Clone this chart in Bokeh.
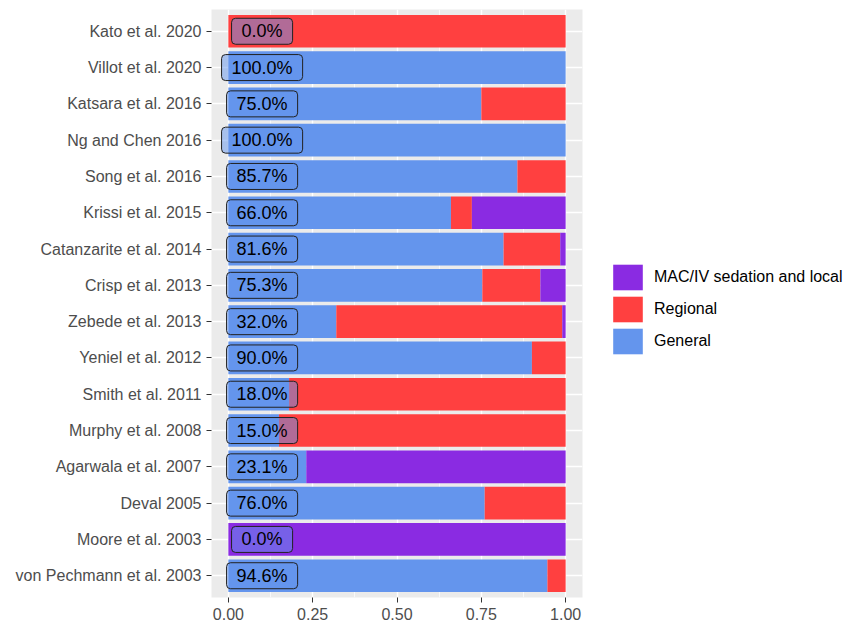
from bokeh.plotting import figure
from bokeh.layouts import row
from bokeh.models import (ColumnDataSource, FactorRange, Range1d, FixedTicker,
                          NumeralTickFormatter, Legend, LegendItem)
from bokeh.core.properties import value
from bokeh.embed import file_html
from bokeh.resources import INLINE

studies = ["Kato et al. 2020", "Villot et al. 2020", "Katsara et al. 2016",
           "Ng and Chen 2016", "Song et al. 2016", "Krissi et al. 2015",
           "Catanzarite et al. 2014", "Crisp et al. 2013", "Zebede et al. 2013",
           "Yeniel et al. 2012", "Smith et al. 2011", "Murphy et al. 2008",
           "Agarwala et al. 2007", "Deval 2005", "Moore et al. 2003",
           "von Pechmann et al. 2003"]
general = [0.0, 1.0, 0.75, 1.0, 0.857, 0.66, 0.816, 0.753, 0.32, 0.90,
           0.18, 0.15, 0.231, 0.76, 0.0, 0.946]
regional = [1.0, 0.0, 0.25, 0.0, 0.143, 0.062, 0.168, 0.172, 0.67, 0.10,
            0.82, 0.85, 0.0, 0.24, 0.0, 0.054]
mac = [0.0, 0.0, 0.0, 0.0, 0.0, 0.278, 0.016, 0.075, 0.01, 0.0,
       0.0, 0.0, 0.769, 0.0, 1.0, 0.0]
labels = [f"{g*100:.1f}%" for g in general]
series_names = ["MAC/IV sedation and local", "Regional", "General"]

COL_G = "#6495ED"
COL_R = "#FF4040"
COL_M = "#8A2BE2"

src = ColumnDataSource(dict(study=studies, General=general, Regional=regional,
                            MAC=mac, label=labels, lx=[0.1] * len(studies)))

p = figure(width=600, height=622, output_backend="svg", toolbar_location=None,
           y_range=FactorRange(factors=list(reversed(studies)),
                               range_padding=0.1, range_padding_units="absolute"),
           x_range=Range1d(-0.05, 1.05),
           min_border_left=211, min_border_top=9, min_border_bottom=25,
           min_border_right=18)
p.background_fill_color = "#EBEBEB"
p.border_fill_color = "white"
p.outline_line_color = None

rs = p.hbar_stack(["General", "Regional", "MAC"], y="study", height=0.9,
                  color=[COL_G, COL_R, COL_M], source=src, line_color=None)

p.text(x="lx", y="study", text="label", source=src,
       text_font=value("Liberation Sans"), text_font_size="18px",
       text_align="center", text_baseline="middle", text_color="black",
       background_fill_color=COL_G, background_fill_alpha=0.5,
       border_line_color="#222222", border_line_width=1, border_radius=4,
       padding=dict(left=10, right=10, top=3, bottom=3))

# axes
p.xaxis.ticker = FixedTicker(ticks=[0, 0.25, 0.5, 0.75, 1.0],
                             minor_ticks=[0.125, 0.375, 0.625, 0.875])
p.xaxis.formatter = NumeralTickFormatter(format="0.00")
for ax in (p.xaxis[0], p.yaxis[0]):
    ax.axis_line_color = None
    ax.major_tick_line_color = "#333333"
    ax.major_tick_out = 5
    ax.major_tick_in = 0
    ax.minor_tick_line_color = None
    ax.major_label_text_font = "Liberation Sans"
    ax.major_label_text_font_size = "16px"
    ax.major_label_text_color = "#4D4D4D"
    ax.major_label_standoff = 5

p.xgrid.grid_line_color = "white"
p.xgrid.grid_line_width = 1.4
p.xgrid.minor_grid_line_color = "white"
p.xgrid.minor_grid_line_width = 0.7
p.ygrid.grid_line_color = "white"
p.ygrid.grid_line_width = 1.4

# legend panel
p2 = figure(width=257, height=622, output_backend="svg", toolbar_location=None,
            x_range=Range1d(0, 1), y_range=Range1d(0, 1),
            x_axis_location=None, y_axis_location=None,
            min_border=0)
p2.outline_line_color = None
p2.grid.visible = False
offscreen = ColumnDataSource(dict(y=[-5.0], left=[2.0], right=[3.0]))
lr = [p2.hbar(y="y", left="left", right="right", height=0.5, fill_color=c,
              line_color=None, source=offscreen)
      for c in (COL_M, COL_R, COL_G)]
legend = Legend(items=[LegendItem(label=n, renderers=[r])
                       for n, r in zip(series_names, lr)],
                location=(9, 240), orientation="vertical",
                glyph_width=37, glyph_height=32, label_standoff=8, spacing=0,
                padding=0, margin=0, border_line_color=None,
                background_fill_alpha=0,
                label_text_font="Liberation Sans", label_text_font_size="16px",
                label_text_color="black")
p2.add_layout(legend, "center")

layout = row(p, p2, spacing=0)
open("out.html", "w").write(file_html(layout, INLINE))
